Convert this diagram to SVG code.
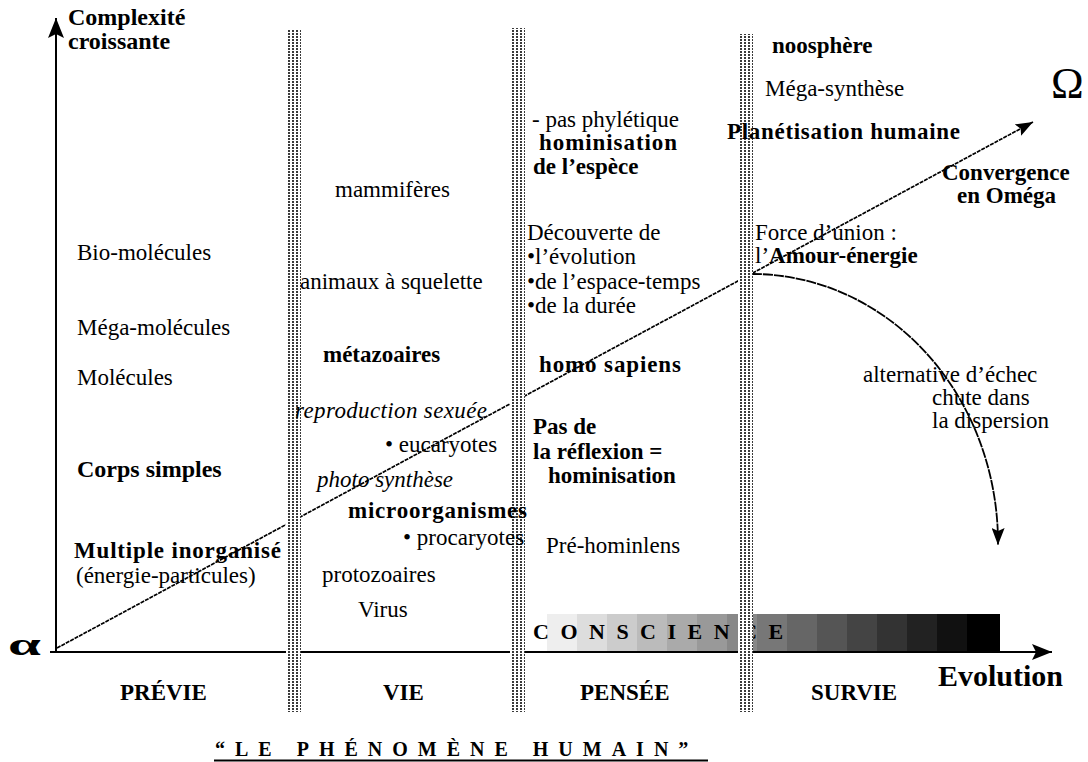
<svg xmlns="http://www.w3.org/2000/svg" width="1088" height="762" viewBox="0 0 1088 762">
<style>
.t{font-family:'Liberation Serif','Times New Roman',serif;font-size:23px;fill:#000}
.b{font-weight:bold}
.i{font-style:italic}
.ln{stroke:#000;stroke-width:2;fill:none}
.dl{stroke:#000;stroke-width:1.7;fill:none;stroke-dasharray:4 1}
.cv{stroke:#000;stroke-width:1.8;fill:none;stroke-dasharray:10 1}
</style>
<defs>
<pattern id="dots" width="4" height="3" patternUnits="userSpaceOnUse">
<rect width="4" height="3" fill="#fff"/>
<rect width="2" height="2" fill="#3a3a3a"/>
</pattern>
<marker id="big" markerWidth="20" markerHeight="16" refX="20" refY="8" orient="auto" markerUnits="userSpaceOnUse">
<path d="M0,0 L20,8 L0,16 L4,8 z" fill="#000"/>
</marker>
<marker id="sm" markerWidth="17" markerHeight="13" refX="17" refY="6.5" orient="auto" markerUnits="userSpaceOnUse">
<path d="M0,0 L17,6.5 L0,13 L3,6.5 z" fill="#000"/>
</marker>
</defs>
<rect width="1088" height="762" fill="#fff"/>

<g id="conscience-bar">
<rect x="547" y="614" width="31" height="38" fill="#eeeeee"/>
<rect x="577" y="614" width="31" height="38" fill="#dddddd"/>
<rect x="607" y="614" width="31" height="38" fill="#cccccc"/>
<rect x="637" y="614" width="31" height="38" fill="#bbbbbb"/>
<rect x="667" y="614" width="31" height="38" fill="#aaaaaa"/>
<rect x="697" y="614" width="31" height="38" fill="#999999"/>
<rect x="727" y="614" width="31" height="38" fill="#888888"/>
<rect x="757" y="614" width="31" height="38" fill="#777777"/>
<rect x="787" y="614" width="31" height="38" fill="#666666"/>
<rect x="817" y="614" width="31" height="38" fill="#555555"/>
<rect x="847" y="614" width="31" height="38" fill="#444444"/>
<rect x="877" y="614" width="31" height="38" fill="#333333"/>
<rect x="907" y="614" width="31" height="38" fill="#222222"/>
<rect x="937" y="614" width="31" height="38" fill="#111111"/>
<rect x="967" y="614" width="33" height="38" fill="#000000"/>
<text class="t b" x="533" y="639" style="font-size:22px;letter-spacing:11.5px">CONSCIENCE</text>
</g>

<g id="connectors">
<line class="ln" x1="56" y1="652" x2="56" y2="18" marker-end="url(#big)"/>
<line class="ln" x1="50" y1="652" x2="1052" y2="652" marker-end="url(#big)"/>
<line class="dl" x1="57" y1="648" x2="1033" y2="122" marker-end="url(#sm)"/>
<path class="cv" d="M752,274 A246,269 0 0 1 998,545" marker-end="url(#sm)"/>
</g>

<g id="barriers">
<rect x="286" y="30" width="15" height="682" fill="url(#dots)"/>
<rect x="510" y="28" width="15" height="684" fill="url(#dots)"/>
<rect x="738" y="34" width="15" height="678" fill="url(#dots)"/>
</g>

<g id="axis-labels">
<text class="t b" x="68" y="25" style="font-size:24px">Complexité</text>
<text class="t b" x="68" y="49" style="font-size:24px">croissante</text>
<text class="t b" x="938" y="686" style="font-size:30px">Evolution</text>
<text class="t b" transform="translate(8,655) scale(1.9,1)" style="font-size:31px">α</text>
<text class="t" x="1051" y="98" style="font-size:44px">Ω</text>
</g>

<g id="periods">
<text class="t b" x="120" y="700">PRÉVIE</text>
<text class="t b" x="383" y="700">VIE</text>
<text class="t b" x="580" y="700">PENSÉE</text>
<text class="t b" x="811" y="700">SURVIE</text>
</g>

<g id="previe">
<text class="t" x="77" y="260">Bio-molécules</text>
<text class="t" x="77" y="335">Méga-molécules</text>
<text class="t" x="77" y="385">Molécules</text>
<text class="t b" x="77" y="477" style="font-size:24px">Corps simples</text>
<text class="t b" x="74" y="558" textLength="207">Multiple inorganisé</text>
<text class="t" x="76" y="583">(énergie-particules)</text>
</g>

<g id="vie">
<text class="t" x="335" y="197">mammifères</text>
<text class="t" x="300" y="289">animaux à squelette</text>
<text class="t b" x="323" y="362">métazoaires</text>
<text class="t i" x="295" y="418" textLength="192">reproduction sexuée</text>
<text class="t" x="385" y="452">• eucaryotes</text>
<text class="t i" x="317" y="487">photo synthèse</text>
<text class="t b" x="348" y="518" textLength="179">microorganismes</text>
<text class="t" x="403" y="545">• procaryotes</text>
<text class="t" x="322" y="582">protozoaires</text>
<text class="t" x="358" y="617">Virus</text>
</g>

<g id="pensee">
<text class="t" x="532" y="127">- pas phylétique</text>
<text class="t b" x="539" y="150" textLength="138">hominisation</text>
<text class="t b" x="533" y="174">de l’espèce</text>
<text class="t" x="527" y="240">Découverte de</text>
<text class="t" x="527" y="264">•l’évolution</text>
<text class="t" x="527" y="289">•de l’espace-temps</text>
<text class="t" x="527" y="313">•de la durée</text>
<text class="t b" x="539" y="372" textLength="142">homo sapiens</text>
<text class="t b" x="533" y="434">Pas de</text>
<text class="t b" x="533" y="459">la réflexion =</text>
<text class="t b" x="548" y="483">hominisation</text>
<text class="t" x="546" y="553">Pré-hominlens</text>
</g>

<g id="survie">
<text class="t b" x="772" y="53">noosphère</text>
<text class="t" x="765" y="96">Méga-synthèse</text>
<text class="t b" x="727" y="139" textLength="233">Planétisation humaine</text>
<text class="t b" x="942" y="180">Convergence</text>
<text class="t b" x="957" y="203">en Oméga</text>
<text class="t" x="755" y="240">Force d’union :</text>
<text class="t" x="755" y="263">l’<tspan class="b">Amour-énergie</tspan></text>
<text class="t" x="863" y="382">alternative d’échec</text>
<text class="t" x="932" y="405">chute dans</text>
<text class="t" x="932" y="428">la dispersion</text>
</g>

<g id="title">
<text class="t b" x="215" y="756" style="font-size:20px;letter-spacing:10px">“LE PHÉNOMÈNE HUMAIN”</text>
<line x1="214" y1="760.5" x2="708" y2="760.5" stroke="#000" stroke-width="2"/>
</g>
</svg>
